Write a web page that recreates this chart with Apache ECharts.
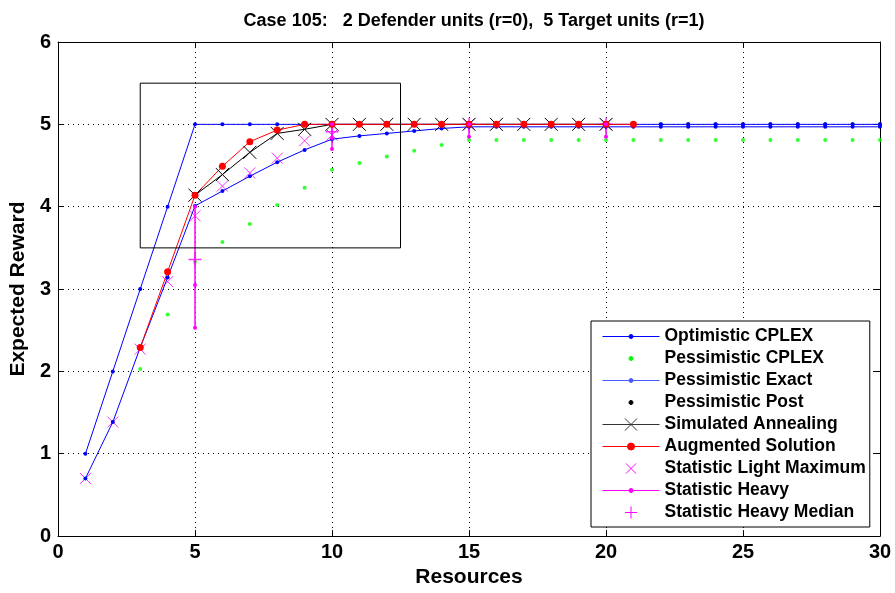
<!DOCTYPE html>
<html>
<head>
<meta charset="utf-8">
<script src="https://cdn.jsdelivr.net/npm/echarts@6/dist/echarts.min.js"></script>
<style>
  html, body { margin: 0; padding: 0; background: #fff; }
  #chart { width: 895px; height: 593px; }
</style>
</head>
<body>
<div id="chart"></div>
<script>
// ---- data -------------------------------------------------------------
const xTicks = [0, 5, 10, 15, 20, 25, 30];
const yTicks = [0, 1, 2, 3, 4, 5, 6];

const resources = [1, 2, 3, 4, 5, 6, 7, 8, 9, 10, 11, 12, 13, 14, 15,
                   16, 17, 18, 19, 20, 21, 22, 23, 24, 25, 26, 27, 28, 29, 30];

const optimisticCplex = [1, 2, 3, 4, 5, 5, 5, 5, 5, 5, 5, 5, 5, 5, 5,
                         5, 5, 5, 5, 5, 5, 5, 5, 5, 5, 5, 5, 5, 5, 5];

const pessimisticExact = [0.70, 1.385, 2.29, 3.14, 4.01, 4.19, 4.37, 4.54, 4.69, 4.82,
                          4.86, 4.89, 4.92, 4.95, 4.97, 4.97, 4.97, 4.97, 4.97, 4.97,
                          4.97, 4.97, 4.97, 4.97, 4.97, 4.97, 4.97, 4.97, 4.97, 4.97];

const pessimisticCplexX = [3, 4, 5, 6, 7, 8, 9, 10, 11, 12, 13, 14, 15, 16,
                           17, 18, 19, 20, 21, 22, 23, 24, 25, 26, 27, 28, 29, 30];
const pessimisticCplex = [2.03, 2.69, 3.33, 3.57, 3.79, 4.02, 4.23, 4.45, 4.53, 4.61, 4.68, 4.75, 4.81, 4.81,
                          4.81, 4.81, 4.81, 4.81, 4.81, 4.81, 4.81, 4.81, 4.81, 4.81, 4.81, 4.81, 4.81, 4.81];

const pessimisticPostX = [10, 11, 12, 13, 14, 15, 16, 17, 18, 19, 20,
                          21, 22, 23, 24, 25, 26, 27, 28, 29, 30];
const pessimisticPost = [5, 5, 5, 5, 5, 5, 5, 5, 5, 5, 5,
                         5, 5, 5, 5, 5, 5, 5, 5, 5, 5];

const annealingX = [5, 6, 7, 8, 9, 10, 11, 12, 13, 14, 15, 16, 17, 18, 19, 20];
const annealing = [4.14, 4.39, 4.66, 4.89, 4.94, 5, 5, 5, 5, 5, 5, 5, 5, 5, 5, 5];

const augmentedX = [3, 4, 5, 6, 7, 8, 9, 10, 11, 12, 13, 14, 15, 16, 17, 18, 19, 20, 21];
const augmented = [2.29, 3.21, 4.14, 4.49, 4.79, 4.93, 5, 5, 5, 5, 5, 5, 5, 5, 5, 5, 5, 5, 5];

const lightMaxX = [1, 2, 3, 4, 5, 6, 7, 8, 9, 10, 15, 20];
const lightMax = [0.70, 1.385, 2.27, 3.09, 3.89, 4.25, 4.41, 4.59, 4.80, 4.87, 5, 5];

// spread of the heavy statistic, one vertical run per resource level
const heavyX = [5, 10, 15, 20];
const heavyRuns = [
  [4.0, 3.05, 2.53],
  [5.0, 4.83, 4.70],
  [5.0, 4.85],
  [5.0, 4.85]
];
const heavyMedian = [3.36, 4.91, 5, 5];

// outline of the region of interest
const boxX = [3, 12.5, 12.5, 3, 3];
const boxY = [3.5, 3.5, 5.5, 5.5, 3.5];

// ---- helpers ----------------------------------------------------------
const zip = (xs, ys) => xs.map((x, i) => [x, ys[i]]);

const FONT = '"Liberation Sans", Arial, Helvetica, sans-serif';
const BLUE = '#0000ff', GREEN = '#00ff00', RED = '#ff0000', MAGENTA = '#ff00ff', BLACK = '#000000';

const X_MARK = 'path://M0 0L10 10M10 0L0 10';
const PLUS_MARK = 'path://M5 0L5 10M0 5L10 5';

// legend icons laid out in a 57 x 14 box
const BOX = 'M0 0M57 14';
const dot = r => `M${28.5 - r} 7.5a${r} ${r} 0 1 0 ${2 * r} 0a${r} ${r} 0 1 0 ${-2 * r} 0`;
const LINE = 'M0 7.5L57 7.5';
const cross = s => `M${28.5 - s} ${7.5 - s}L${28.5 + s} ${7.5 + s}M${28.5 + s} ${7.5 - s}L${28.5 - s} ${7.5 + s}`;
const plus = s => `M28.5 ${7.5 - s}L28.5 ${7.5 + s}M${28.5 - s} 7.5L${28.5 + s} 7.5`;
const icon = parts => 'path://' + BOX + parts.join('');

const legendItem = (name, color, parts) => ({
  name,
  icon: icon(parts),
  itemStyle: { color, borderColor: color, borderWidth: 1, opacity: 1 }
});

// ---- series -----------------------------------------------------------
const series = [
  {
    name: 'Optimistic CPLEX', type: 'line',
    data: zip(resources, optimisticCplex),
    symbol: 'circle', symbolSize: 4,
    lineStyle: { color: BLUE, width: 1 }, itemStyle: { color: BLUE }
  },
  {
    name: 'Pessimistic CPLEX', type: 'scatter',
    data: zip(pessimisticCplexX, pessimisticCplex),
    symbol: 'circle', symbolSize: 4, itemStyle: { color: GREEN }
  },
  {
    name: 'Pessimistic Exact', type: 'line',
    data: zip(resources, pessimisticExact),
    symbol: 'circle', symbolSize: 4,
    lineStyle: { color: BLUE, width: 1 }, itemStyle: { color: BLUE }
  },
  {
    name: 'Pessimistic Post', type: 'scatter',
    data: zip(pessimisticPostX, pessimisticPost),
    symbol: 'circle', symbolSize: 4, itemStyle: { color: BLACK }
  },
  {
    name: 'Simulated Annealing', type: 'line',
    data: zip(annealingX, annealing),
    symbol: X_MARK, symbolSize: 13,
    lineStyle: { color: BLACK, width: 1 },
    itemStyle: { color: BLACK, borderColor: BLACK, borderWidth: 1 }
  },
  {
    name: 'Augmented Solution', type: 'line',
    data: zip(augmentedX, augmented),
    symbol: 'circle', symbolSize: 7,
    lineStyle: { color: RED, width: 1 }, itemStyle: { color: RED }
  },
  {
    name: 'Statistic Light Maximum', type: 'scatter',
    data: zip(lightMaxX, lightMax),
    symbol: X_MARK, symbolSize: 11,
    itemStyle: { color: MAGENTA, borderColor: MAGENTA, borderWidth: 1 }
  }
];

heavyX.forEach((x, i) => {
  series.push({
    name: 'Statistic Heavy', type: 'line',
    data: heavyRuns[i].map(v => [x, v]),
    symbol: 'circle', symbolSize: 4,
    lineStyle: { color: MAGENTA, width: 1.5 }, itemStyle: { color: MAGENTA }
  });
});

series.push({
  name: 'Statistic Heavy Median', type: 'scatter',
  data: zip(heavyX, heavyMedian),
  symbol: PLUS_MARK, symbolSize: 13,
  itemStyle: { color: MAGENTA, borderColor: MAGENTA, borderWidth: 1.5 }
});

series.push({
  name: 'region', type: 'line',
  data: zip(boxX, boxY),
  symbol: 'none', silent: true,
  lineStyle: { color: BLACK, width: 1 }
});

series.forEach(s => { s.animation = false; s.emphasis = { disabled: true }; });

// ---- axes -------------------------------------------------------------
const tickLabelStyle = { color: BLACK, fontFamily: FONT, fontWeight: 'bold', fontSize: 20 };
const frameAxis = {
  axisLine: { show: true, onZero: false, lineStyle: { color: BLACK, width: 1 } },
  axisTick: { show: true, inside: true, length: 6, lineStyle: { color: BLACK, width: 1 } },
};

const chart = echarts.init(document.getElementById('chart'), null, { renderer: 'canvas' });
chart.setOption({
  backgroundColor: '#ffffff',
  animation: false,
  title: {
    text: 'Case 105:   2 Defender units (r=0),  5 Target units (r=1)',
    left: 469, top: 7, textAlign: 'center',
    textStyle: { color: BLACK, fontFamily: FONT, fontWeight: 'bold', fontSize: 18 }
  },
  grid: { left: 58, right: 15, top: 42, bottom: 56, containLabel: false },
  xAxis: [
    Object.assign({
      type: 'value', min: xTicks[0], max: xTicks[xTicks.length - 1], interval: 5,
      name: 'Resources', nameLocation: 'middle', nameGap: 29,
      nameTextStyle: { color: BLACK, fontFamily: FONT, fontWeight: 'bold', fontSize: 21 },
      axisLabel: Object.assign({ margin: 6 }, tickLabelStyle),
      splitLine: { show: true, lineStyle: { color: BLACK, width: 1, type: [1, 4] } }
    }, frameAxis),
    Object.assign({
      type: 'value', position: 'top', min: xTicks[0], max: xTicks[xTicks.length - 1], interval: 5,
      axisLabel: { show: false }, splitLine: { show: false }
    }, frameAxis)
  ],
  yAxis: [
    Object.assign({
      type: 'value', min: yTicks[0], max: yTicks[yTicks.length - 1], interval: 1,
      name: 'Expected Reward', nameLocation: 'middle', nameGap: 22,
      nameTextStyle: { color: BLACK, fontFamily: FONT, fontWeight: 'bold', fontSize: 21 },
      axisLabel: Object.assign({ margin: 7 }, tickLabelStyle),
      splitLine: { show: true, lineStyle: { color: BLACK, width: 1, type: [1, 4] } }
    }, frameAxis),
    Object.assign({
      type: 'value', position: 'right', min: yTicks[0], max: yTicks[yTicks.length - 1], interval: 1,
      axisLabel: { show: false }, splitLine: { show: false }
    }, frameAxis)
  ],
  legend: {
    orient: 'vertical',
    left: 591, top: 321,
    backgroundColor: '#ffffff',
    borderColor: BLACK, borderWidth: 1,
    padding: [6, 4, 6, 11],
    itemWidth: 57, itemHeight: 14, itemGap: 4,
    symbolKeepAspect: false,
    selectedMode: false,
    textStyle: { color: BLACK, fontFamily: FONT, fontWeight: 'bold', fontSize: 17.5 },
    data: [
      legendItem('Optimistic CPLEX', BLUE, [LINE, dot(2)]),
      legendItem('Pessimistic CPLEX', GREEN, [dot(2)]),
      legendItem('Pessimistic Exact', '#4a5cff', [LINE, dot(2)]),
      legendItem('Pessimistic Post', BLACK, [dot(2)]),
      legendItem('Simulated Annealing', '#333333', [LINE, cross(6)]),
      legendItem('Augmented Solution', RED, [LINE, dot(3.5)]),
      legendItem('Statistic Light Maximum', MAGENTA, [cross(5)]),
      legendItem('Statistic Heavy', MAGENTA, [LINE, dot(2)]),
      legendItem('Statistic Heavy Median', MAGENTA, [plus(6)])
    ]
  },
  series
});
</script>
</body>
</html>
